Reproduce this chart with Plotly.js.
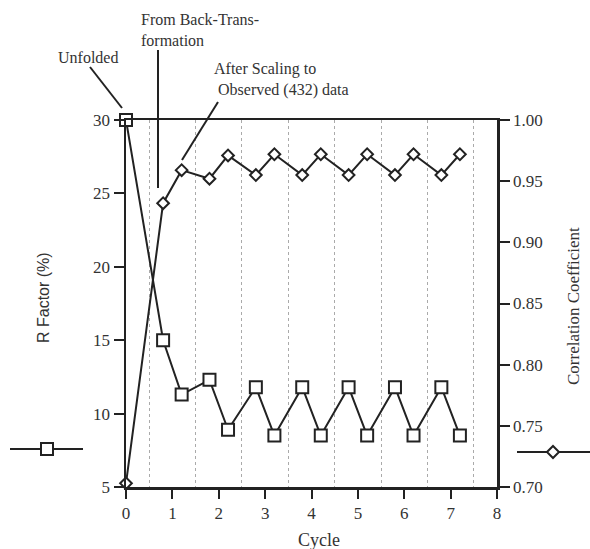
<!DOCTYPE html>
<html>
<head>
<meta charset="utf-8">
<script src="https://cdn.plot.ly/plotly-3.0.1.min.js"></script>
<style>html,body{margin:0;padding:0;background:#fff;}#chart{width:590px;height:549px;}</style>
</head>
<body>
<div id="chart"></div>
<script>
// Data
var cycle = [0, 0.8, 1.2, 1.8, 2.2, 2.8, 3.2, 3.8, 4.2, 4.8, 5.2, 5.8, 6.2, 6.8, 7.2];
var rFactor = [30, 15.0, 11.3, 12.3, 8.9, 11.8, 8.5, 11.8, 8.5, 11.8, 8.5, 11.8, 8.5, 11.8, 8.5];
var corrCoef = [0.703, 0.932, 0.959, 0.952, 0.971, 0.955, 0.972, 0.955, 0.972, 0.955, 0.972, 0.955, 0.972, 0.955, 0.972];
var xTicks = [0, 1, 2, 3, 4, 5, 6, 7, 8];
var rTicks = [5, 10, 15, 20, 25, 30];
var cTicks = [0.70, 0.75, 0.80, 0.85, 0.90, 0.95, 1.00];

var ink = '#222';
var serif = 'Liberation Serif, Times New Roman, serif';
var sans = 'Liberation Sans, Arial, sans-serif';
var tickFont = {family: serif, size: 17, color: '#333'};

var traces = [
  {
    x: cycle, y: corrCoef, yaxis: 'y2', type: 'scatter', mode: 'lines+markers',
    line: {color: ink, width: 2},
    marker: {symbol: 'diamond', size: 9, color: '#fff', line: {color: ink, width: 2}},
    cliponaxis: false, showlegend: false, hoverinfo: 'skip'
  },
  {
    x: cycle, y: rFactor, type: 'scatter', mode: 'lines+markers',
    line: {color: ink, width: 2},
    marker: {symbol: 'square', size: 12, color: '#fff', line: {color: ink, width: 2}},
    cliponaxis: false, showlegend: false, hoverinfo: 'skip'
  }
];

var W = 371, H = 367, L = 126, T = 120;
function px(x) { return (x - L) / W; }
function py(y) { return (T + H - y) / H; }

var annFont = {family: serif, size: 16, color: '#333'};
var layout = {
  width: 590, height: 549,
  margin: {l: 126, r: 93, t: 120, b: 62},
  paper_bgcolor: '#fff', plot_bgcolor: '#fff',
  showlegend: false,
  xaxis: {
    range: [0, 8], tickvals: xTicks, ticks: 'outside', ticklen: 9, tickwidth: 2, tickcolor: ink,
    showline: true, linewidth: 2.5, linecolor: ink, mirror: true,
    showgrid: false, zeroline: false, tickfont: tickFont,
    minor: {tick0: 0.5, dtick: 1, showgrid: true, gridcolor: '#aaa', griddash: 'dot', gridwidth: 1, ticks: ''}
  },
  yaxis: {
    range: [5, 30], tickvals: rTicks, ticks: 'outside', ticklen: 10, tickwidth: 2, tickcolor: ink,
    showline: true, linewidth: 2.5, linecolor: ink, showgrid: false, zeroline: false,
    tickfont: tickFont
  },
  yaxis2: {
    range: [0.70, 1.00], tickvals: cTicks, tickformat: '.2f', overlaying: 'y', side: 'right',
    ticks: 'outside', ticklen: 10, tickwidth: 2, tickcolor: ink,
    showline: true, linewidth: 2.5, linecolor: ink, showgrid: false, zeroline: false,
    tickfont: tickFont
  },
  annotations: [
    {xref: 'paper', yref: 'paper', x: px(43), y: py(298), text: 'R Factor (%)', textangle: -90,
     showarrow: false, font: {family: sans, size: 16, color: '#333'}, xanchor: 'center', yanchor: 'middle'},
    {xref: 'paper', yref: 'paper', x: px(573), y: py(306), text: 'Correlation Coefficient', textangle: -90,
     showarrow: false, font: {family: serif, size: 17, color: '#333'}, xanchor: 'center', yanchor: 'middle'},
    {xref: 'paper', yref: 'paper', x: px(319), y: py(540), text: 'Cycle',
     showarrow: false, font: {family: serif, size: 18, color: '#333'}, xanchor: 'center', yanchor: 'middle'},
    {xref: 'paper', yref: 'paper', x: px(56), y: py(58), text: 'Unfolded',
     showarrow: false, font: annFont, xanchor: 'left', yanchor: 'middle'},
    {xref: 'paper', yref: 'paper', x: px(139), y: py(30), text: 'From Back-Trans-<br>formation', align: 'left',
     showarrow: false, font: annFont, xanchor: 'left', yanchor: 'middle'},
    {xref: 'paper', yref: 'paper', x: px(212), y: py(80), text: 'After Scaling to<br> Observed (432) data', align: 'left',
     showarrow: false, font: annFont, xanchor: 'left', yanchor: 'middle'}
  ],
  shapes: [
    // pointer lines
    {type: 'line', xref: 'paper', yref: 'paper', x0: px(90), y0: py(67), x1: px(122), y1: py(108), line: {color: ink, width: 2}},
    {type: 'line', xref: 'paper', yref: 'paper', x0: px(158), y0: py(50), x1: px(158), y1: py(188), line: {color: ink, width: 2}},
    {type: 'line', xref: 'paper', yref: 'paper', x0: px(218), y0: py(102), x1: px(182), y1: py(160), line: {color: ink, width: 2}},
    // legend glyph: R factor
    {type: 'line', xref: 'paper', yref: 'paper', x0: px(10), y0: py(449), x1: px(83), y1: py(449), line: {color: ink, width: 2}},
    {type: 'rect', xref: 'paper', yref: 'paper', xsizemode: 'pixel', ysizemode: 'pixel',
     xanchor: px(47), yanchor: py(449), x0: -6, x1: 6, y0: -6, y1: 6,
     fillcolor: '#fff', line: {color: ink, width: 2}},
    // legend glyph: correlation
    {type: 'line', xref: 'paper', yref: 'paper', x0: px(517), y0: py(452), x1: px(590), y1: py(452), line: {color: ink, width: 2}},
    {type: 'path', xref: 'paper', yref: 'paper', xsizemode: 'pixel', ysizemode: 'pixel',
     xanchor: px(553), yanchor: py(452), path: 'M -6 0 L 0 6 L 6 0 L 0 -6 Z',
     fillcolor: '#fff', line: {color: ink, width: 2}}
  ]
};

Plotly.newPlot('chart', traces, layout, {displayModeBar: false, staticPlot: true});
</script>
</body>
</html>
